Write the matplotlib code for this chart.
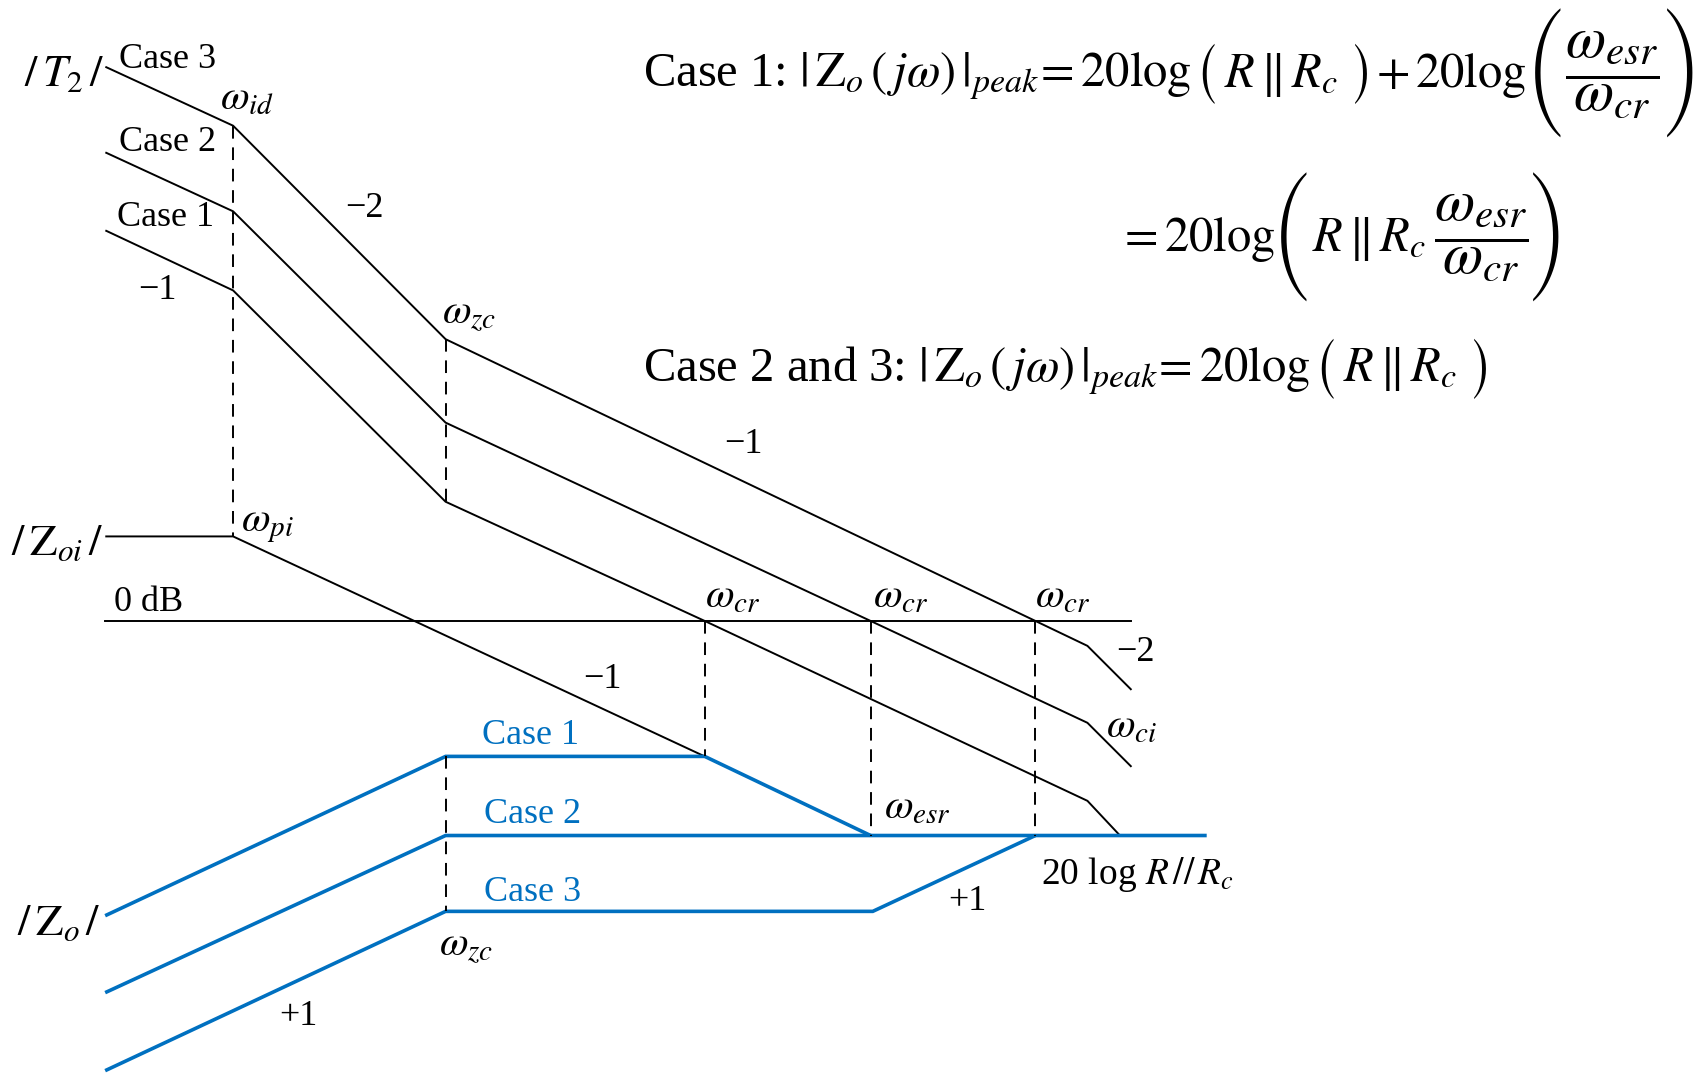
import matplotlib
matplotlib.use("Agg")
import matplotlib.pyplot as plt

plt.rcParams['font.family'] = ['Liberation Serif', 'DejaVu Serif']
plt.rcParams['mathtext.fontset'] = 'stix'

BLACK = 'black'
BLUE = '#0070C0'

# Asymptotic Bode magnitude sketches, drawn on a canvas of 1568 x 992 units
# (x: log frequency, y: magnitude, increasing downwards)

# Loop gain |T2| for the three cases
t2_case3_x = [98, 215, 411, 955, 1003, 1043]
t2_case3_y = [62, 116, 313, 573, 596, 636]
t2_case2_x = [98, 215, 411, 803, 1003, 1043]
t2_case2_y = [141, 195, 390, 573, 667, 707]
t2_case1_x = [98, 215, 411, 650, 1003, 1033]
t2_case1_y = [213, 268, 463, 573, 739, 771]

# Open-loop output impedance |Zoi|
zoi_x = [98, 215, 650]
zoi_y = [495, 495, 698]

# 0 dB reference line
zero_db_x = [97, 1043]
zero_db_y = [573, 573]

# Closed-loop output impedance |Zo| for the three cases
zo_case1_x = [97, 411, 650, 803]
zo_case1_y = [845, 698, 698, 771]
zo_case2_x = [97, 411, 1113]
zo_case2_y = [916, 771, 771]
zo_case3_x = [97, 411, 805, 955]
zo_case3_y = [988, 841, 841, 771]

# Vertical guides at the corner frequencies: (x, y_top, y_bottom)
guides_x = [215, 411, 411, 650, 803, 955]
guides_top = [116, 313, 698, 573, 573, 573]
guides_bottom = [495, 463, 841, 698, 771, 771]

fig = plt.figure(figsize=(17, 10.75), dpi=100)
ax = fig.add_axes([0, 0, 1, 1])
ax.set_xlim(0, 1568)
ax.set_ylim(992, 0)
ax.axis('off')

lw_black = 1.4
for xs, ys in [(t2_case3_x, t2_case3_y), (t2_case2_x, t2_case2_y),
               (t2_case1_x, t2_case1_y), (zoi_x, zoi_y),
               (zero_db_x, zero_db_y)]:
    ax.plot(xs, ys, color=BLACK, lw=lw_black, solid_joinstyle='miter')

for xs, ys in [(zo_case1_x, zo_case1_y), (zo_case2_x, zo_case2_y),
               (zo_case3_x, zo_case3_y)]:
    ax.plot(xs, ys, color=BLUE, lw=2.6, solid_joinstyle='miter',
            solid_capstyle='butt')

for gx, gt, gb in zip(guides_x, guides_top, guides_bottom):
    ax.plot([gx, gx], [gt, gb], color=BLACK, lw=1.4, ls=(0, (6.5, 4.5)))

fs = 26
fw = 30

def label(x, y, s, size=fs, color=BLACK, ha='left', va='baseline', **kw):
    return ax.text(x, y, s, fontsize=size, color=color, ha=ha, va=va, **kw)

# Curve names and slopes
label(22, 79, r'$/\,T_2\,/$', size=32)
label(110, 63, 'Case 3')
label(110, 139, 'Case 2')
label(108, 209, 'Case 1')
label(145, 268, '−1', ha='center', va='center')
label(336, 192, '−2', ha='center', va='center')
label(686, 410, '−1', ha='center', va='center')
label(10, 512, r'$/\,\mathrm{Z}_{oi}\,/$', size=32)
label(105, 564, '0 dB')
label(556, 627, '−1', ha='center', va='center')
label(1047, 602, '−2', ha='center', va='center')
label(16, 863, r'$/\,\mathrm{Z}_{o}\,/$', size=32)
label(892, 832, '+1', ha='center', va='center')
label(275, 938, '+1', ha='center', va='center')
label(960, 816, r'20 log $R\,//\,R_c$', size=27)

# Corner frequency names
label(203, 101, r'$\omega_{id}$', size=fw)
label(408, 298, r'$\omega_{zc}$', size=fw)
label(222, 490, r'$\omega_{pi}$', size=fw)
for cx in [650, 805, 955]:
    label(cx, 560, r'$\omega_{cr}$', size=fw)
label(1020, 680, r'$\omega_{ci}$', size=fw)
label(815, 755, r'$\omega_{esr}$', size=fw)
label(405, 882, r'$\omega_{zc}$', size=fw)

# |Zo| case names
label(445, 687, 'Case 1', color=BLUE)
label(446, 759, 'Case 2', color=BLUE)
label(446, 831, 'Case 3', color=BLUE)

# Peak output impedance expressions
fe = 35      # main equation text
ff = 42      # displayed ratio
PAREN_S = ('STIXSizeOneSym', 35)    # parentheses around R || Rc
PAREN_L = ('STIXSizeFourSym', 30)   # tall parentheses around the ratio

renderer = fig.canvas.get_renderer()
to_data = ax.transData.inverted()

def right_edge(t):
    bb = t.get_window_extent(renderer=renderer)
    return to_data.transform((bb.x1, bb.y0))[0]

def row(x, base, axis_y, pieces):
    """Lay out pieces left to right: (kind, text, gap).

    kind 'm' is equation text on the baseline, 'f' a displayed ratio,
    'ps' / 'pl' small / tall parentheses centred on the math axis."""
    for kind, s, gap in pieces:
        if kind == 'm':
            t = label(x + gap, base, s, size=fe)
        elif kind == 'f':
            t = label(x + gap, axis_y, s, size=ff, va='center')
        else:
            fam, size = PAREN_S if kind == 'ps' else PAREN_L
            t = label(x + gap, axis_y, s, size=size, va='center',
                      fontfamily=fam)
        x = right_edge(t)
    return x

ratio = r'$\dfrac{\omega_{esr}}{\omega_{cr}}$'
zo_peak = r'$|\,\mathrm{Z}_o\,(\,j\omega)\,|_{peak}\!=20\log$'
r_par = r'$R\,\Vert\,R_c$'

# Case 1, first line
row(593, 80, 68, [
    ('m', 'Case 1: ' + zo_peak, 0),
    ('ps', '(', 3),
    ('m', r_par, 6),
    ('ps', ')', 12),
    ('m', r'$+\,20\log$', 2),
    ('pl', '(', 3),
    ('f', ratio, 2),
    ('pl', ')', 4),
])

# Case 1, second line
row(1030, 232, 219, [
    ('m', r'$=20\log$', 0),
    ('pl', '(', 0),
    ('m', r_par, 3),
    ('f', ratio, 7),
    ('pl', ')', 2),
])

# Cases 2 and 3
row(593, 352, 340, [
    ('m', 'Case 2 and 3: ' + zo_peak, 0),
    ('ps', '(', 3),
    ('m', r_par, 6),
    ('ps', ')', 12),
])

fig.savefig('out.png', dpi=100)
